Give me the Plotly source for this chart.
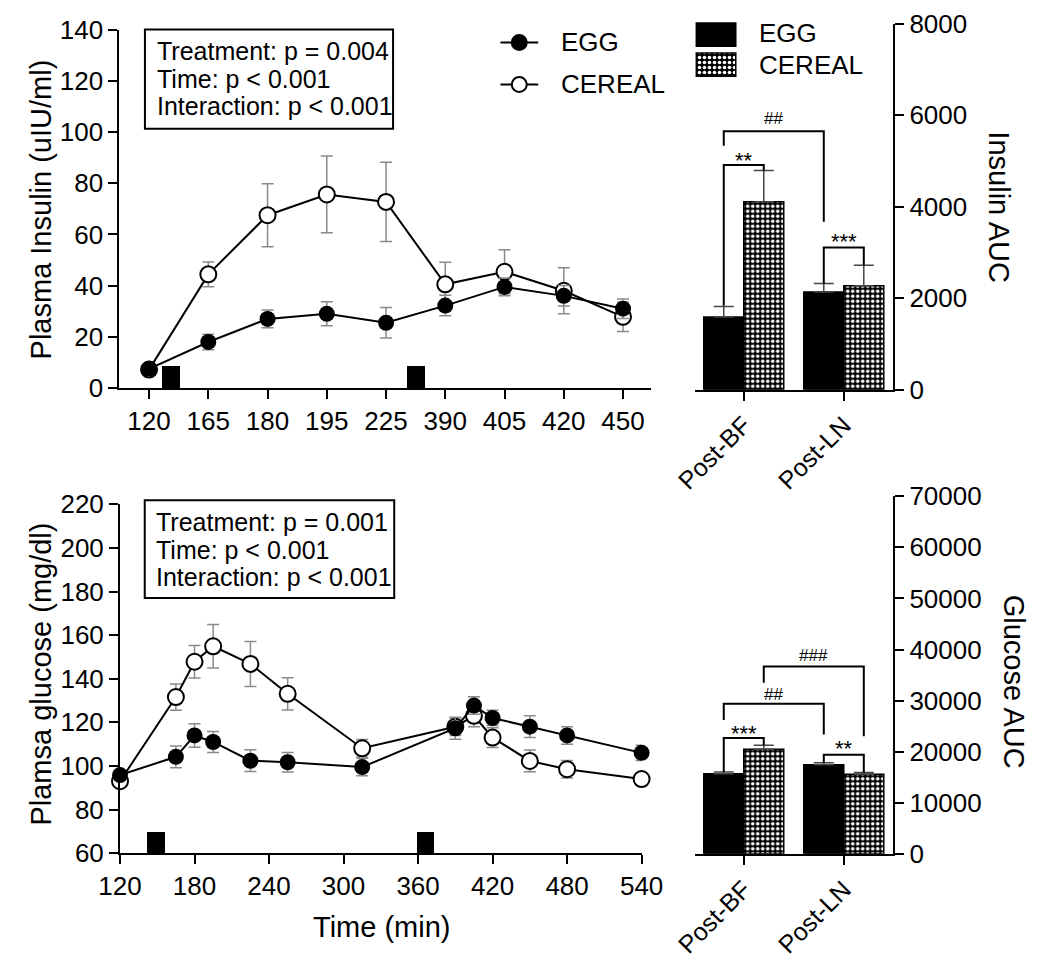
import plotly.graph_objects as go

W, H = 1050, 967
FONT = "Arial, Liberation Sans, sans-serif"

# ---------------- data ----------------
insulin_times = ["120", "165", "180", "195", "225", "390", "405", "420", "450"]
insulin_egg = [7.5, 18, 27, 29, 25.5, 32.2, 39.5, 36, 31]
insulin_egg_err = [1.0, 3, 3.5, 4.7, 6, 4, 3.5, 4, 3.8]
insulin_cereal = [7.2, 44.4, 67.5, 75.6, 72.7, 40.5, 45.4, 38, 27.8]
insulin_cereal_err = [1.0, 4.8, 12.3, 15, 15.5, 8.6, 8.6, 9, 5.7]
insulin_meal_pos = [0.375, 4.5]          # position between sampling times (category units)

glucose_times = [120, 165, 180, 195, 225, 255, 315, 390, 405, 420, 450, 480, 540]
glucose_egg = [95.8, 104.2, 114, 111, 102.4, 101.7, 99.5, 117.3, 127.7, 122, 118, 114, 106]
glucose_egg_err = [2, 5, 5.4, 4.8, 5, 4.5, 4, 5, 4, 3.5, 5, 4, 3.5]
glucose_cereal = [93, 131.6, 147.8, 154.9, 146.8, 133.1, 108.1, 118, 123, 113, 102.3, 98.5, 94]
glucose_cereal_err = [2, 6, 7.5, 10, 10.3, 7.4, 4, 4, 5, 4.5, 5, 4, 2]
glucose_meal_times = [149, 366]

auc_groups = ["Post-BF", "Post-LN"]
insulin_auc_egg = [1590, 2135]
insulin_auc_egg_err = [230, 185]
insulin_auc_cereal = [4110, 2275]
insulin_auc_cereal_err = [680, 445]
glucose_auc_egg = [15700, 17430]
glucose_auc_egg_err = [330, 380]
glucose_auc_cereal = [20480, 15580]
glucose_auc_cereal_err = [760, 330]

insulin_stats = ["Treatment: p = 0.004", "Time: p < 0.001", "Interaction: p < 0.001"]
glucose_stats = ["Treatment: p = 0.001", "Time: p < 0.001", "Interaction: p < 0.001"]

# brackets: (group_from, series_from, group_to, series_to, bracket level, left end, right end, label, label level)
insulin_brackets = [
    (0, "egg", 1, "egg", 5650, 5330, 3670, "##", 5930),
    (0, "egg", 0, "cereal", 4910, 1836, 4788, "**", 5105),
    (1, "egg", 1, "cereal", 3107, 2317, 2720, "***", 3320),
]
glucose_brackets = [
    (0, "egg", 0, "cereal", 22700, 16020, 21240, "***", 24300),
    (0, "egg", 1, "egg", 29370, 26200, 23350, "##", 31280),
    (0, "cereal", 1, "cereal", 36700, 33500, 23020, "###", 38800),
    (1, "egg", 1, "cereal", 19400, 17810, 15900, "**", 21440),
]

# ---------------- helpers ----------------
def fx(px):
    return px / W


def fy(py):
    return 1 - py / H


BAR_W = 0.4
PATTERN = dict(shape=".", fgcolor="white", bgcolor="black", size=5, solidity=0.4, fillmode="replace")


def bar_x(group, series):
    return group - BAR_W / 2 if series == "egg" else group + BAR_W / 2


fig = go.Figure()
ann = []

# ---------- insulin time course (x / y) ----------
idx = list(range(len(insulin_times)))
fig.add_trace(go.Bar(x=insulin_meal_pos, y=[8.8] * len(insulin_meal_pos), width=0.307,
                     marker=dict(color="black", line=dict(width=0)), xaxis="x", yaxis="y"))
fig.add_trace(go.Scatter(x=idx, y=insulin_cereal, mode="lines+markers", xaxis="x", yaxis="y",
                         line=dict(color="black", width=2),
                         marker=dict(symbol="circle", size=16, color="white", line=dict(color="black", width=2)),
                         error_y=dict(type="data", array=insulin_cereal_err, color="#8a8a8a", thickness=1.5, width=6),
                         cliponaxis=False))
fig.add_trace(go.Scatter(x=idx, y=insulin_egg, mode="lines+markers", xaxis="x", yaxis="y",
                         line=dict(color="black", width=2),
                         marker=dict(symbol="circle", size=16, color="black"),
                         error_y=dict(type="data", array=insulin_egg_err, color="#8a8a8a", thickness=1.5, width=6),
                         cliponaxis=False))

# ---------- glucose time course (x3 / y3) ----------
fig.add_trace(go.Bar(x=glucose_meal_times, y=[9.5] * len(glucose_meal_times), base=60, width=14.3,
                     marker=dict(color="black", line=dict(width=0)), xaxis="x3", yaxis="y3"))
fig.add_trace(go.Scatter(x=glucose_times, y=glucose_cereal, mode="lines+markers", xaxis="x3", yaxis="y3",
                         line=dict(color="black", width=2),
                         marker=dict(symbol="circle", size=16, color="white", line=dict(color="black", width=2)),
                         error_y=dict(type="data", array=glucose_cereal_err, color="#8a8a8a", thickness=1.5, width=6),
                         cliponaxis=False))
fig.add_trace(go.Scatter(x=glucose_times, y=glucose_egg, mode="lines+markers", xaxis="x3", yaxis="y3",
                         line=dict(color="black", width=2),
                         marker=dict(symbol="circle", size=16, color="black"),
                         error_y=dict(type="data", array=glucose_egg_err, color="#8a8a8a", thickness=1.5, width=6),
                         cliponaxis=False))


# ---------- AUC bars ----------
def add_auc(xa, ya, egg, egg_err, cer, cer_err, brackets):
    gx = list(range(len(auc_groups)))
    fig.add_trace(go.Bar(x=gx, y=egg, width=BAR_W, offset=-BAR_W, xaxis=xa, yaxis=ya,
                         marker=dict(color="black", line=dict(color="black", width=1.5)),
                         error_y=dict(type="data", array=egg_err, arrayminus=[0] * len(egg), symmetric=False,
                                      color="#444444", thickness=1.5, width=10)))
    fig.add_trace(go.Bar(x=gx, y=cer, width=BAR_W, offset=0, xaxis=xa, yaxis=ya,
                         marker=dict(color="black", line=dict(color="black", width=1.5), pattern=PATTERN),
                         error_y=dict(type="data", array=cer_err, arrayminus=[0] * len(cer), symmetric=False,
                                      color="#444444", thickness=1.5, width=10)))
    for g0, s0, g1, s1, top, lend, rend, label, ly in brackets:
        x0, x1 = bar_x(g0, s0), bar_x(g1, s1)
        fig.add_trace(go.Scatter(x=[x0, x0, x1, x1], y=[lend, top, top, rend], mode="lines",
                                 line=dict(color="black", width=2), xaxis=xa, yaxis=ya,
                                 cliponaxis=False, hoverinfo="skip"))
        ann.append(dict(x=(x0 + x1) / 2, y=ly, xref=xa, yref=ya, text=label, showarrow=False,
                        yanchor="middle", yshift=-4 if "*" in label else 0,
                        font=dict(family=FONT, size=22 if "*" in label else 17, color="black")))


add_auc("x2", "y2", insulin_auc_egg, insulin_auc_egg_err, insulin_auc_cereal, insulin_auc_cereal_err,
        insulin_brackets)
add_auc("x4", "y4", glucose_auc_egg, glucose_auc_egg_err, glucose_auc_cereal, glucose_auc_cereal_err,
        glucose_brackets)

# ---------- legend keys (drawn on a pixel-space overlay axis) ----------
for yy, filled in [(28.3, True), (71.7, False)]:
    fig.add_trace(go.Scatter(x=[499.4, 538.8], y=[yy, yy], mode="lines", line=dict(color="black", width=2),
                             xaxis="x5", yaxis="y5", hoverinfo="skip"))
    fig.add_trace(go.Scatter(x=[519], y=[yy], mode="markers", xaxis="x5", yaxis="y5", hoverinfo="skip",
                             marker=dict(size=15, color="black" if filled else "white",
                                         line=dict(color="black", width=2))))
fig.add_trace(go.Bar(x=[724.4], y=[24], base=[8.3], width=[41.2], xaxis="x5", yaxis="y5",
                     marker=dict(color="black", line=dict(color="black", width=1.5))))
fig.add_trace(go.Bar(x=[724.4], y=[24], base=[39.3], width=[41.2], xaxis="x5", yaxis="y5",
                     marker=dict(color="black", line=dict(color="black", width=1.5), pattern=PATTERN)))

for txt, x, y in [("EGG", 560, 28.3), ("CEREAL", 560, 71.7), ("EGG", 767.5, 19), ("CEREAL", 767.5, 51.7)]:
    ann.append(dict(x=fx(x), y=fy(y), xref="paper", yref="paper", text=txt, showarrow=False,
                    xanchor="left", yanchor="middle", font=dict(family=FONT, size=26, color="black")))

# stats boxes
shapes = []
for lines, (bx0, by0, bx1, by1), tx, tys in [
    (insulin_stats, (128.3, 15, 387.3, 117.3), 138.3, [36.7, 65.7, 94.3]),
    (glucose_stats, (128.1, 500.7, 388.5, 601.7), 137.5, [523.3, 551.7, 580]),
]:
    shapes.append(dict(type="rect", xref="paper", yref="paper", x0=fx(bx0), x1=fx(bx1), y0=fy(by1), y1=fy(by0),
                       line=dict(color="black", width=2), fillcolor="rgba(0,0,0,0)"))
    for t, ty in zip(lines, tys):
        ann.append(dict(x=fx(tx), y=fy(ty), xref="paper", yref="paper", text=t, showarrow=False,
                        xanchor="left", yanchor="middle", font=dict(family=FONT, size=25, color="black")))

# axis titles
for txt, x, y, ang in [("Plasma Insulin (uIU/ml)", 20, 200.5, -90),
                       ("Plamsa glucose (mg/dl)", 20, 680.5, -90),
                       ("Time (min)", 375, 941.7, 0),
                       ("Insulin AUC", 1019.5, 198.3, 90),
                       ("Glucose AUC", 1035.7, 688.3, 90)]:
    ann.append(dict(x=fx(x), y=fy(y), xref="paper", yref="paper", text=txt, showarrow=False,
                    xanchor="center", yanchor="middle", textangle=ang,
                    font=dict(family=FONT, size=29, color="black")))

axis_common = dict(showline=True, linecolor="black", linewidth=2, ticks="outside", ticklen=9, tickwidth=2,
                   tickcolor="black", showgrid=False, zeroline=False,
                   tickfont=dict(family=FONT, size=26, color="black"), fixedrange=True)
cat_font = dict(family=FONT, size=25, color="black")

fig.update_layout(
    width=W, height=H, margin=dict(l=0, r=0, t=0, b=0),
    paper_bgcolor="white", plot_bgcolor="rgba(0,0,0,0)",
    showlegend=False, barmode="overlay", bargap=0,
    annotations=ann, shapes=shapes,
    xaxis=dict(domain=[fx(101.7), fx(657)], anchor="y", range=[-0.5, 8.48],
               tickmode="array", tickvals=idx, ticktext=insulin_times, **axis_common),
    yaxis=dict(domain=[fy(385), fy(15)], anchor="x", range=[0, 140], dtick=20, tick0=0, **axis_common),
    xaxis2=dict(domain=[fx(702.7), fx(909.3)], anchor="y2", range=[-0.485, 1.494],
                tickmode="array", tickvals=[0, 1], ticktext=auc_groups, tickangle=-45,
                **{**axis_common, "tickfont": cat_font}),
    yaxis2=dict(domain=[fy(386.7), fy(9)], anchor="x2", side="right", range=[0, 8000], dtick=2000,
                tickformat="d", **axis_common),
    xaxis3=dict(domain=[fx(102.3), fx(646.7)], anchor="y3", range=[120, 540], dtick=60, tick0=120,
                **axis_common),
    yaxis3=dict(domain=[fy(865), fy(505)], anchor="x3", range=[60, 220], dtick=20, tick0=60, **axis_common),
    xaxis4=dict(domain=[fx(702.7), fx(909.3)], anchor="y4", range=[-0.485, 1.494],
                tickmode="array", tickvals=[0, 1], ticktext=auc_groups, tickangle=-45,
                **{**axis_common, "tickfont": cat_font}),
    yaxis4=dict(domain=[fy(865.7), fy(496.7)], anchor="x4", side="right", range=[0, 70000], dtick=10000,
                tickformat="d", **axis_common),
    xaxis5=dict(domain=[0, 1], anchor="y5", range=[0, W], visible=False, fixedrange=True),
    yaxis5=dict(domain=[0, 1], anchor="x5", range=[H, 0], visible=False, fixedrange=True),
)

fig.write_html("out.html", config={"displayModeBar": False, "staticPlot": True},
               post_script="document.body.style.margin='0px';")
